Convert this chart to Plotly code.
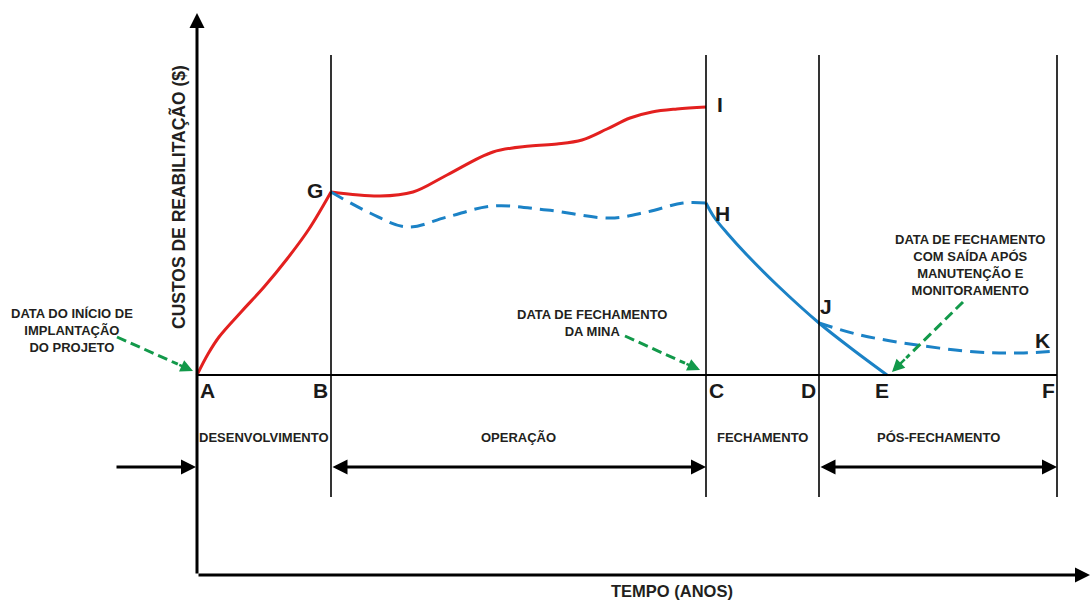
import plotly.graph_objects as go

# ---------------- data (time units, cost units) ----------------
phase_names = ["A", "B", "C", "D", "E", "F"]
phase_times = [0, 134, 509, 622, 690, 860]

red_dev_t = [0, 11, 22, 45, 67, 90, 112, 134]
red_dev_c = [0, 21, 38, 64, 88, 116, 146, 183]

red_op_t = [134, 183, 216, 250, 296, 333, 360, 385, 410, 433, 455, 480, 509]
red_op_c = [183, 179, 183, 200, 223, 229, 231, 235, 246, 257, 263, 266, 268]

blue_op_t = [134, 173, 210, 250, 296, 350, 413, 450, 486, 509]
blue_op_c = [183, 162, 148, 158, 169, 165, 157, 163, 172, 172]

blue_close_t = [509, 517, 530, 550, 580, 622, 655, 690]
blue_close_c = [172, 158, 142, 120, 90, 52, 26, 0]

blue_post_t = [622, 663, 720, 780, 823, 860]
blue_post_c = [52, 40, 30, 23, 22, 24]

point_letters = ["G", "H", "I", "J", "K"]
point_t = [118, 525, 523, 629, 845]
point_c = [185, 162, 271, 69, 35]

phase_labels = ["DESENVOLVIMENTO", "OPERAÇÃO", "FECHAMENTO", "PÓS-FECHAMENTO"]
y_title = "CUSTOS DE REABILITAÇÃO ($)"
x_title = "TEMPO (ANOS)"
note_start = "DATA DO INÍCIO DE<br>IMPLANTAÇÃO<br>DO PROJETO"
note_close = "DATA DE FECHAMENTO<br>DA MINA"
note_exit = "DATA DE FECHAMENTO<br>COM SAÍDA APÓS<br>MANUTENÇÃO E<br>MONITORAMENTO"

RED = "#e3201f"
BLUE = "#1b82c6"
GREEN = "#12994a"
INK = "#231f20"

fig = go.Figure()

def curve(t, c, color, dash=None):
    fig.add_trace(go.Scatter(
        x=t, y=c, mode="lines",
        line=dict(color=color, width=3, shape="spline", smoothing=1.0,
                  dash=dash if dash else "solid"),
        hoverinfo="skip", showlegend=False))

curve(red_dev_t, red_dev_c, RED)
curve(red_op_t, red_op_c, RED)
curve(blue_op_t, blue_op_c, BLUE, "14px,8px")
curve(blue_close_t, blue_close_c, BLUE)
curve(blue_post_t, blue_post_c, BLUE, "14px,8px")

shapes = []
# baseline
shapes.append(dict(type="line", x0=phase_times[0], x1=phase_times[-1], y0=0, y1=0,
                   line=dict(color="black", width=2)))
# vertical phase boundaries
for name, t in zip(phase_names, phase_times):
    if name in ("B", "C", "D", "F"):
        shapes.append(dict(type="line", x0=t, x1=t, y0=-122, y1=320,
                           line=dict(color="black", width=1.6)))
fig.update_layout(shapes=shapes)

ann = []

def arrow(x, y, ax, ay, color="black", width=3, side="end", head=2, size=1.0):
    ann.append(dict(x=x, y=y, ax=ax, ay=ay, xref="x", yref="y", axref="x", ayref="y",
                    text="", showarrow=True, arrowhead=head, startarrowhead=head,
                    arrowsize=size, startarrowsize=size,
                    arrowwidth=width, arrowcolor=color, arrowside=side,
                    standoff=0, startstandoff=0))

# main axes
arrow(0, 362, 0, -200, width=3, size=1.0)
arrow(893, -200, 0, -200, width=3, size=1.0)
# left entry arrow
arrow(-1, -92, -82, -92, width=3)
# double arrows
arrow(phase_times[2], -92, phase_times[1], -92, side="end+start")
arrow(phase_times[5], -92, phase_times[3], -92, side="end+start")

# green dashed pointers
def pointer(t0, c0, t1, c1):
    fr = 0.80
    tm, cm = t0 + (t1 - t0) * fr, c0 + (c1 - c0) * fr
    fig.add_trace(go.Scatter(x=[t0, tm], y=[c0, cm], mode="lines",
                             line=dict(color=GREEN, width=3, dash="10px,5px"),
                             hoverinfo="skip", showlegend=False))
    arrow(t1, c1, tm, cm, color=GREEN, width=2.5, head=2, size=1.0)

pointer(-80, 38, -4, 4)
pointer(428, 39, 503, 5)
pointer(766, 73, 695, 3)

def text(t, c, s, size, font="Arial, Liberation Sans, sans-serif", angle=0, color=INK):
    ann.append(dict(x=t, y=c, xref="x", yref="y", text=s, showarrow=False,
                    font=dict(family=font, size=size, color=color),
                    textangle=angle, xanchor="center", yanchor="middle"))

# phase point letters
offs = {"A": 10, "B": -11, "C": 10, "D": -11, "E": -5, "F": -9}
for name, t in zip(phase_names, phase_times):
    text(t + offs[name], -15, "<b>%s</b>" % name, 21, color="#1a1a1a")
for name, t, c in zip(point_letters, point_t, point_c):
    text(t, c, "<b>%s</b>" % name, 21, color="#1a1a1a")

# phase labels
narrow = "Liberation Sans Narrow, Arial Narrow, Arial, sans-serif"
label_t = [(phase_times[0] + phase_times[1]) / 2, (phase_times[1] + phase_times[2]) / 2,
           (phase_times[2] + phase_times[3]) / 2, (phase_times[3] + phase_times[5]) / 2]
for s, t in zip(phase_labels, label_t):
    text(t, -62, "<b>%s</b>" % s, 13, font=narrow)

# notes
text(-125, 45, "<b>%s</b>" % note_start, 13)
text(395, 52, "<b>%s</b>" % note_close, 13)
text(773, 110, "<b>%s</b>" % note_exit, 13)

# axis titles
text(-19, 178, "<b>%s</b>" % y_title, 17.5, angle=-90)
text(475, -216, "<b>%s</b>" % x_title, 16.5)

fig.update_layout(
    annotations=ann,
    width=1091, height=601,
    margin=dict(l=0, r=0, t=0, b=0),
    paper_bgcolor="white", plot_bgcolor="white",
    xaxis=dict(range=[-197, 894], visible=False, fixedrange=True),
    yaxis=dict(range=[-226, 375], visible=False, fixedrange=True),
    showlegend=False,
)

fig.write_html("out.html", config={"displayModeBar": False},
               post_script="document.body.style.margin='0px';document.body.style.overflow='hidden';")
